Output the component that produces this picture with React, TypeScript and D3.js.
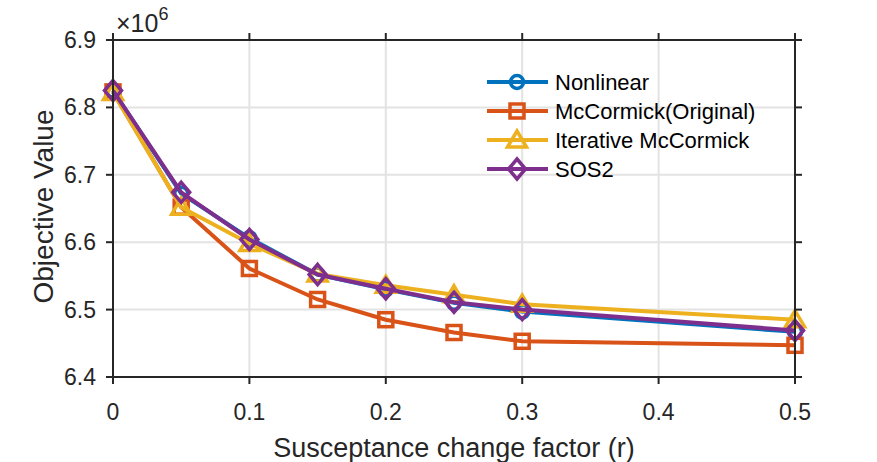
import React from "react";
import * as d3 from "d3";

const xValues = [0, 0.05, 0.1, 0.15, 0.2, 0.25, 0.3, 0.5];
const nonlinear = [6.825, 6.672, 6.606, 6.552, 6.530, 6.510, 6.497, 6.467];
const mcCormick = [6.823, 6.652, 6.561, 6.515, 6.485, 6.466, 6.453, 6.447];
const iterative = [6.822, 6.652, 6.598, 6.553, 6.536, 6.522, 6.508, 6.485];
const sos2 = [6.825, 6.674, 6.604, 6.552, 6.531, 6.511, 6.500, 6.469];
const seriesNames = ["Nonlinear", "McCormick(Original)", "Iterative McCormick", "SOS2"];
const seriesColors = ["#0072BD", "#D95319", "#EDB120", "#7E2F8E"];
const seriesMarkers = ["circle", "square", "triangle", "diamond"];
const xTicks = [0, 0.1, 0.2, 0.3, 0.4, 0.5];
const yTicks = [6.4, 6.5, 6.6, 6.7, 6.8, 6.9];

const W = 877, H = 462;
const L = 113, R = 795, T = 40, B = 377;
const FONT = "'Liberation Sans', Arial, Helvetica, sans-serif";

function Marker({ type, x, y, color }: { type: string; x: number; y: number; color: string }) {
  const sw = 3.5;
  if (type === "circle") return <circle cx={x} cy={y} r={6.5} fill="none" stroke={color} strokeWidth={sw} />;
  if (type === "square") return <rect x={x - 7} y={y - 7} width={14} height={14} fill="none" stroke={color} strokeWidth={sw} />;
  if (type === "triangle") return <polygon points={`${x},${y - 9} ${x + 9.5},${y + 7} ${x - 9.5},${y + 7}`} fill="none" stroke={color} strokeWidth={sw} strokeLinejoin="miter" />;
  return <polygon points={`${x},${y - 10} ${x + 8.5},${y} ${x},${y + 10} ${x - 8.5},${y}`} fill="none" stroke={color} strokeWidth={sw} />;
}

export default function App() {
  const x = d3.scaleLinear().domain([0, 0.5]).range([L, R]);
  const y = d3.scaleLinear().domain([6.4, 6.9]).range([B, T]);
  const data = [nonlinear, mcCormick, iterative, sos2];
  const line = d3.line<number>().x((_, i) => x(xValues[i])).y((d) => y(d));
  const axisColor = "#262626";
  const legX = 487, legY0 = 82, legDy = 29;
  return (
    <svg width={W} height={H} style={{ position: "absolute", left: 0, top: 0 }} fontFamily={FONT}>
      <rect x={0} y={0} width={W} height={H} fill="#fff" />
      {xTicks.slice(1, -1).map((t) => (
        <line key={"gx" + t} x1={x(t)} x2={x(t)} y1={T} y2={B} stroke="#e3e3e3" strokeWidth={2} />
      ))}
      {yTicks.slice(1, -1).map((t) => (
        <line key={"gy" + t} x1={L} x2={R} y1={y(t)} y2={y(t)} stroke="#e3e3e3" strokeWidth={2} />
      ))}
      {data.map((s, k) => (
        <g key={k}>
          <path d={line(s) || ""} fill="none" stroke={seriesColors[k]} strokeWidth={4} />
          {s.map((v, i) => (
            <Marker key={i} type={seriesMarkers[k]} x={x(xValues[i])} y={y(v)} color={seriesColors[k]} />
          ))}
        </g>
      ))}
      <rect x={L} y={T} width={R - L} height={B - T} fill="none" stroke={axisColor} strokeWidth={2} />
      {xTicks.map((t) => (
        <g key={"xt" + t}>
          <line x1={x(t)} x2={x(t)} y1={B} y2={B + 7} stroke={axisColor} strokeWidth={2} />
          <line x1={x(t)} x2={x(t)} y1={T} y2={T - 7} stroke={axisColor} strokeWidth={2} />
          <text x={x(t)} y={420} fontSize={23} textAnchor="middle" fill={axisColor}>{String(t)}</text>
        </g>
      ))}
      {yTicks.map((t) => (
        <g key={"yt" + t}>
          <line x1={L} x2={L - 7} y1={y(t)} y2={y(t)} stroke={axisColor} strokeWidth={2} />
          <line x1={R} x2={R + 7} y1={y(t)} y2={y(t)} stroke={axisColor} strokeWidth={2} />
          <text x={96} y={y(t) + 8} fontSize={23} textAnchor="end" fill={axisColor}>{t.toFixed(1)}</text>
        </g>
      ))}
      <text x={116} y={32} fontSize={25} fill={axisColor}>
        ×10<tspan dy={-12} fontSize={18}>6</tspan>
      </text>
      <text x={454} y={457} fontSize={27} textAnchor="middle" fill={axisColor}>Susceptance change factor (r)</text>
      <text transform={`translate(53,${206.5}) rotate(-90)`} fontSize={28} textAnchor="middle" fill={axisColor}>Objective Value</text>
      {seriesNames.map((n, k) => {
        const ly = legY0 + k * legDy;
        return (
          <g key={n}>
            <line x1={legX} x2={legX + 61} y1={ly} y2={ly} stroke={seriesColors[k]} strokeWidth={4} />
            <Marker type={seriesMarkers[k]} x={legX + 30} y={ly} color={seriesColors[k]} />
            <text x={555} y={ly + 8} fontSize={22} fill="#000">{n}</text>
          </g>
        );
      })}
    </svg>
  );
}
